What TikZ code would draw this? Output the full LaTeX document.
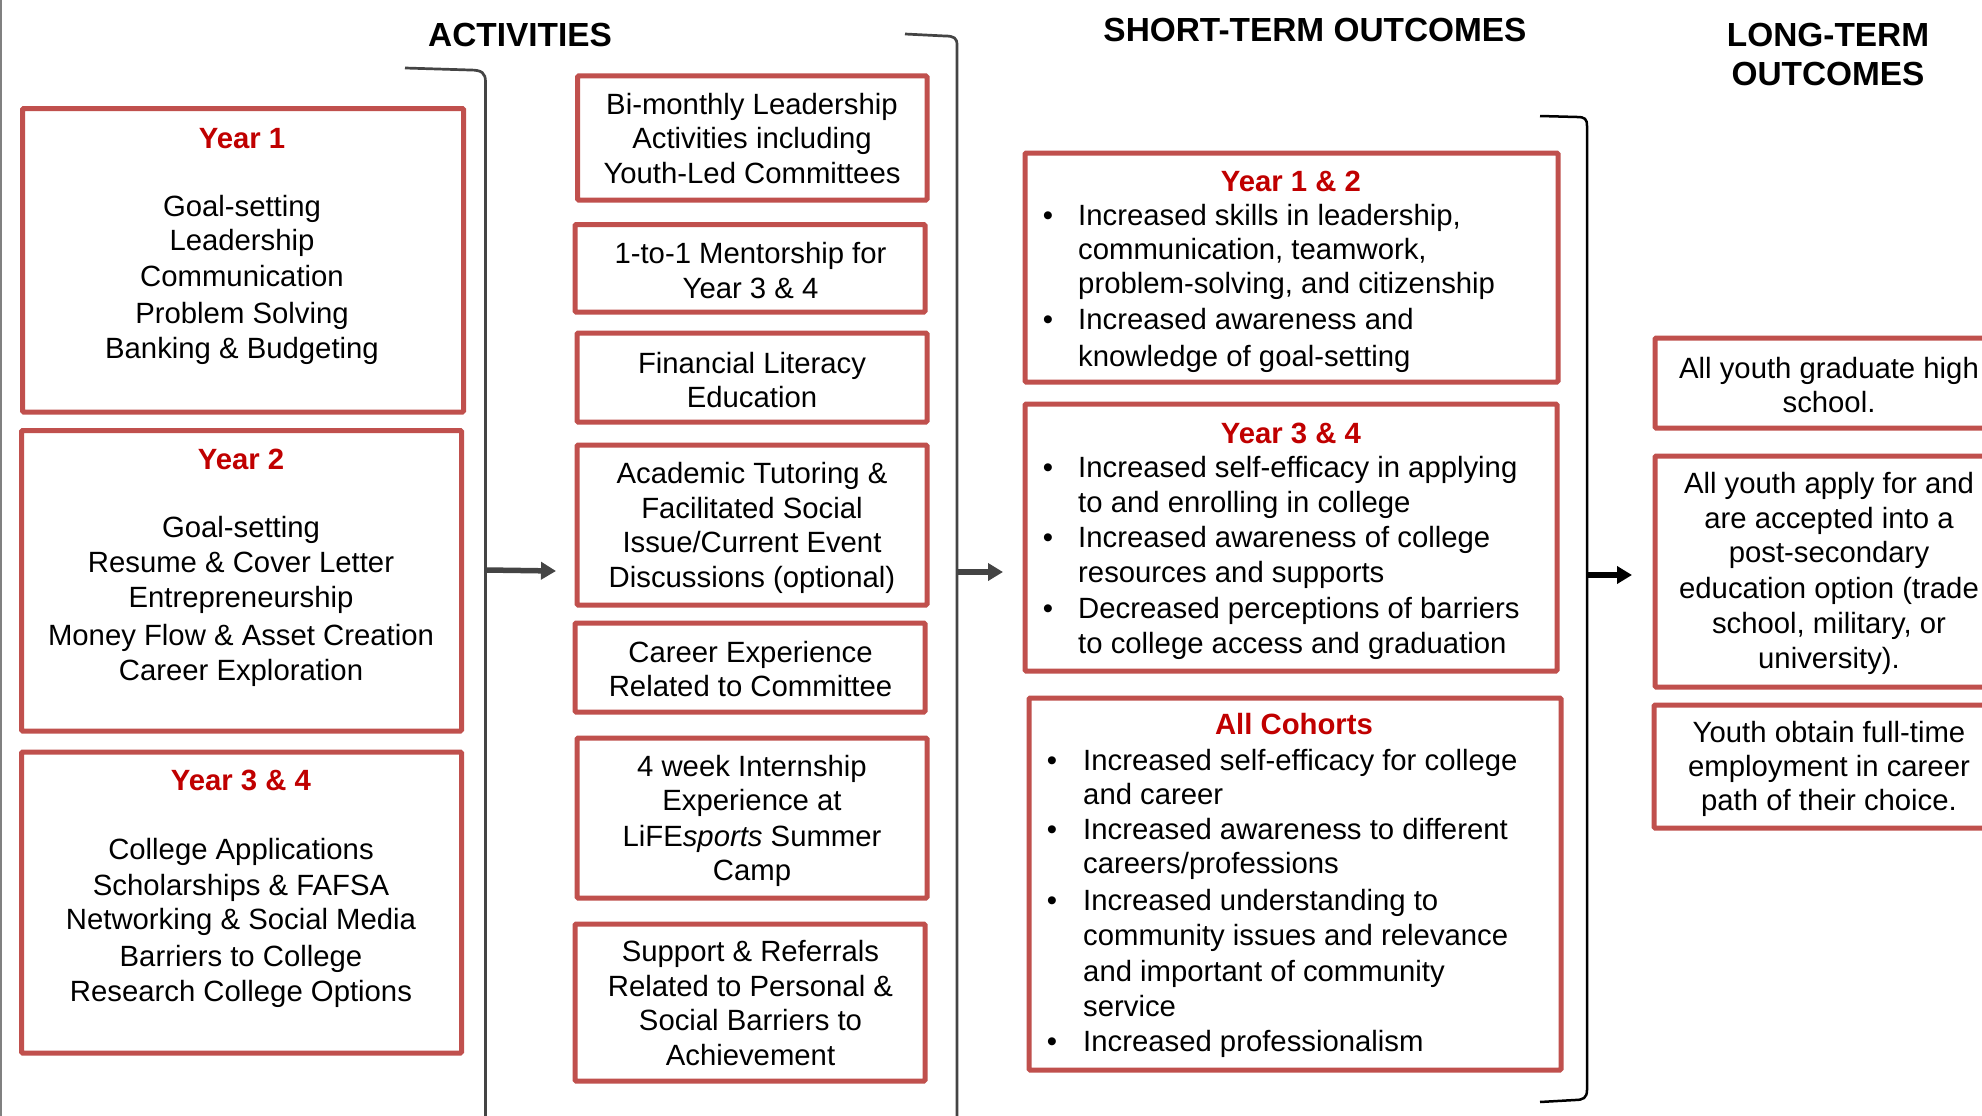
\documentclass[tikz,border=0pt]{standalone}
\usepackage{fontspec}
\setmainfont{Liberation Sans}
\usetikzlibrary{arrows.meta}
\definecolor{boxred}{HTML}{C0504D}
\definecolor{titlered}{HTML}{C00000}
\definecolor{rulegray}{HTML}{444444}
\newcommand{\bodysize}{\fontsize{29.3}{35}\selectfont}
\newcommand{\headsize}{\fontsize{33.4}{38}\selectfont\bfseries}
% box node from its stroke corners (x1,y1) and (x2,y2)
\newcommand{\mkbox}[5]{\node[box, minimum width={(#4)-(#2)}, minimum height={(#5)-(#3)}] (#1) at ({((#2)+(#4))/2},{((#3)+(#5))/2}) {};}

\begin{document}
\begin{tikzpicture}[x=1pt, y=-1pt,
  box/.style={draw=boxred, line width=5pt, rounded corners=1.2pt, inner sep=0pt, outer sep=0pt},
  body/.style={font=\bodysize, inner sep=0pt, anchor=base},
  lbody/.style={font=\bodysize, inner sep=0pt, anchor=base west},
  ttl/.style={font=\bodysize\bfseries, text=titlered, inner sep=0pt, anchor=base},
  head/.style={font=\headsize, inner sep=0pt, anchor=base},
  bracket/.style={line width=2.7pt, draw=rulegray},
  flow/.style={line width=5.5pt, -{Triangle[length=15pt,width=17pt]}},
]
\useasboundingbox (0,0) rectangle (1982,1116);
\clip (0,0) rectangle (1982,1116);
\fill[white] (0,0) rectangle (1982,1116);

% headings
\node[head] (hact) at (520,47) {ACTIVITIES};
\node[head] (hshort) at (1315,42) {SHORT-TERM OUTCOMES};
\node[head] (hlong1) at (1828,47) {LONG-TERM};
\node[head] (hlong2) at (1828,85) {OUTCOMES};

% frame line and brackets
\draw[line width=2pt, draw=gray] (1,0) -- (1,1116);
\draw[bracket] (405,68) -- (470,70) .. controls (482,70) and (485.5,73) .. (485.5,82) -- (485.5,1116);
\draw[bracket] (905,34) -- (945,36) .. controls (954,36) and (957,38) .. (957,45) -- (957,1116);
\draw[line width=2.5pt, black] (1540,116) -- (1577,117) .. controls (1585,117) and (1587,119) .. (1587,126)
  -- (1587,1090) .. controls (1587,1098) and (1583,1100) .. (1575,1100) -- (1540,1102);

% activities by year
\mkbox{A1}{22.5}{108.5}{463.5}{412}
\mkbox{A2}{21.5}{430.5}{461.5}{731}
\mkbox{A3}{21.5}{752}{461.5}{1053}
\node[ttl] (a1t) at (242,148) {Year 1};
\foreach \yy/\txt [count=\i] in {216/Goal-setting, 250/Leadership, 286/Communication, 323/Problem Solving, 358/{Banking \& Budgeting}}
  \node[body] (a1l\i) at (242,\yy) {\txt};
\node[ttl] (a2t) at (241,469) {Year 2};
\foreach \yy/\txt [count=\i] in {537/Goal-setting, 572/{Resume \& Cover Letter}, 607/Entrepreneurship, 645/{Money Flow \& Asset Creation}, 680/Career Exploration}
  \node[body] (a2l\i) at (241,\yy) {\txt};
\node[ttl] (a3t) at (241,790) {Year 3 \& 4};
\foreach \yy/\txt [count=\i] in {859/College Applications, 895/{Scholarships \& FAFSA}, 929/{Networking \& Social Media}, 966/Barriers to College, 1001/Research College Options}
  \node[body] (a3l\i) at (241,\yy) {\txt};

% ongoing activities
\mkbox{B1}{577.5}{76}{927}{200}
\mkbox{B2}{575}{224.5}{925}{312}
\mkbox{B3}{577}{333}{927}{422}
\mkbox{B4}{577}{445}{927}{605}
\mkbox{B5}{575}{623}{925}{712}
\mkbox{B6}{577}{738}{927}{898}
\mkbox{B7}{575}{924}{925}{1081}
\foreach \yy/\txt [count=\i] in {114/Bi-monthly Leadership, 148/Activities including, 183/Youth-Led Committees}
  \node[body] (b1l\i) at (752,\yy) {\txt};
\foreach \yy/\txt [count=\i] in {263/1-to-1 Mentorship for, 298/{Year 3 \& 4}}
  \node[body] (b2l\i) at (750.5,\yy) {\txt};
\foreach \yy/\txt [count=\i] in {373/Financial Literacy, 407/Education}
  \node[body] (b3l\i) at (752,\yy) {\txt};
\foreach \yy/\txt [count=\i] in {483/{Academic Tutoring \&}, 518/Facilitated Social, 552/{Issue/Current Event}, 587/{Discussions (optional)}}
  \node[body] (b4l\i) at (752,\yy) {\txt};
\foreach \yy/\txt [count=\i] in {662/Career Experience, 696/Related to Committee}
  \node[body] (b5l\i) at (750.5,\yy) {\txt};
\foreach \yy/\txt [count=\i] in {776/4 week Internship, 810/Experience at, 846/{LiFE\textit{sports} Summer}, 880/Camp}
  \node[body] (b6l\i) at (752,\yy) {\txt};
\foreach \yy/\txt [count=\i] in {961/{Support \& Referrals}, 996/{Related to Personal \&}, 1030/Social Barriers to, 1065/Achievement}
  \node[body] (b7l\i) at (750.5,\yy) {\txt};

% short-term outcomes
\mkbox{C1}{1025}{153}{1558}{382}
\mkbox{C2}{1025}{404}{1557}{671}
\mkbox{C3}{1029}{698}{1561}{1070}
\node[ttl] (c1t) at (1291,191) {Year 1 \& 2};
\foreach \yy [count=\i] in {225,329}
  \node[body] (c1b\i) at (1048,\yy) {\textbullet};
\foreach \yy/\txt [count=\i] in {225/{Increased skills in leadership,}, 259/{communication, teamwork,}, 293/{problem-solving, and citizenship}, 329/Increased awareness and, 366/knowledge of goal-setting}
  \node[lbody] (c1l\i) at (1078,\yy) {\txt};
\node[ttl] (c2t) at (1291,443) {Year 3 \& 4};
\foreach \yy [count=\i] in {477,547,618}
  \node[body] (c2b\i) at (1048,\yy) {\textbullet};
\foreach \yy/\txt [count=\i] in {477/Increased self-efficacy in applying, 512/to and enrolling in college, 547/Increased awareness of college, 582/resources and supports, 618/Decreased perceptions of barriers, 653/to college access and graduation}
  \node[lbody] (c2l\i) at (1078,\yy) {\txt};
\node[ttl] (c3t) at (1294,734) {All Cohorts};
\foreach \yy [count=\i] in {770,839,910,1051}
  \node[body] (c3b\i) at (1052,\yy) {\textbullet};
\foreach \yy/\txt [count=\i] in {770/Increased self-efficacy for college, 804/and career, 839/Increased awareness to different, 873/{careers/professions}, 910/Increased understanding to, 945/community issues and relevance, 981/and important of community, 1016/service, 1051/Increased professionalism}
  \node[lbody] (c3l\i) at (1083,\yy) {\txt};

% long-term outcomes
\mkbox{D1}{1655}{338}{2005}{428}
\mkbox{D2}{1655}{456}{2005}{687}
\mkbox{D3}{1654}{705}{2005}{828}
\foreach \yy/\txt [count=\i] in {378/All youth graduate high, 412/school.}
  \node[body] (d1l\i) at (1829,\yy) {\txt};
\foreach \yy/\txt [count=\i] in {493/All youth apply for and, 528/are accepted into a, 562/post-secondary, 598/{education option (trade}, 633/{school, military, or}, 668/{university).}}
  \node[body] (d2l\i) at (1829,\yy) {\txt};
\foreach \yy/\txt [count=\i] in {742/Youth obtain full-time, 776/employment in career, 810/path of their choice.}
  \node[body] (d3l\i) at (1829,\yy) {\txt};

% flow arrows between stages
\coordinate (f1s) at (486,570);
\coordinate (f1e) at (556,571);
\coordinate (f2s) at (958,572);
\coordinate (f2e) at (1003,572);
\coordinate (f3s) at (1588,575);
\coordinate (f3e) at (1632,575);
\draw[flow, rulegray] (f1s) -- (f1e);
\draw[flow, rulegray] (f2s) -- (f2e);
\draw[flow, black] (f3s) -- (f3e);
\end{tikzpicture}
\end{document}
